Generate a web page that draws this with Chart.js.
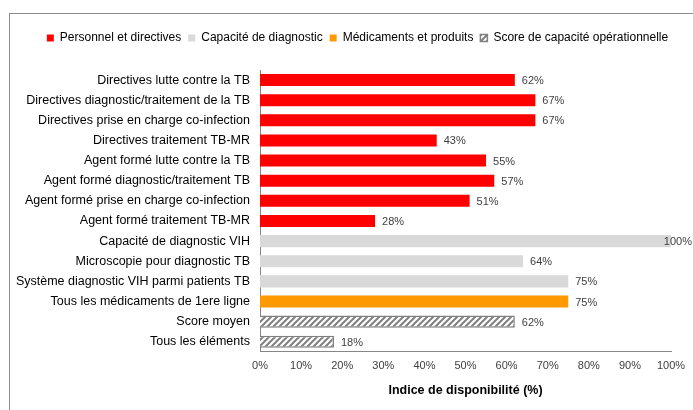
<!DOCTYPE html>
<html>
<head>
<meta charset="utf-8">
<script src="https://cdn.jsdelivr.net/npm/chart.js@4"></script>
<style>
  body { margin: 0; background: #fff; }
  #wrap { position: relative; width: 693px; height: 410px; }
  #frame { position: absolute; left: 9px; top: 13px; width: 700px; height: 420px; border: 1px solid #8c8c8c; }
  canvas { position: absolute; left: 0; top: 0; }
</style>
</head>
<body>
<div id="wrap">
  <div id="frame"></div>
  <canvas id="myChart" width="693" height="410"></canvas>
</div>
<script>
var categories = [
  'Directives lutte contre la TB',
  'Directives diagnostic/traitement de la TB',
  'Directives prise en charge co-infection',
  'Directives traitement TB-MR',
  'Agent formé lutte contre la TB',
  'Agent formé diagnostic/traitement TB',
  'Agent formé prise en charge co-infection',
  'Agent formé traitement TB-MR',
  'Capacité de diagnostic VIH',
  'Microscopie pour diagnostic TB',
  'Système diagnostic VIH parmi patients TB',
  'Tous les médicaments de 1ere ligne',
  'Score moyen',
  'Tous les éléments'
]
var seriesNames = ['Personnel et directives', 'Capacité de diagnostic', 'Médicaments et produits', 'Score de capacité opérationnelle']
var personnel = [62, 67, 67, 43, 55, 57, 51, 28, null, null, null, null, null, null]
var diagnostic = [null, null, null, null, null, null, null, null, 100, 64, 75, null, null, null]
var medicaments = [null, null, null, null, null, null, null, null, null, null, null, 75, null, null]
var score = [null, null, null, null, null, null, null, null, null, null, null, null, 62, 18]
var xTicks = [0, 10, 20, 30, 40, 50, 60, 70, 80, 90, 100]

var font = "'Liberation Sans', Arial, sans-serif"

// hatched fill for the score bars
function makeHatch() {
  var c = document.createElement('canvas')
  c.width = 6
  c.height = 6
  var g = c.getContext('2d')
  g.fillStyle = '#ffffff'
  g.fillRect(0, 0, 6, 6)
  g.strokeStyle = '#808080'
  g.lineWidth = 2
  g.beginPath()
  g.moveTo(-1, 7); g.lineTo(7, -1)
  g.moveTo(-4, 4); g.lineTo(4, -4)
  g.moveTo(2, 10); g.lineTo(10, 2)
  g.stroke()
  return g.createPattern(c, 'repeat')
}
var hatch = makeHatch()

var valueLabels = {
  id: 'valueLabels',
  afterDatasetsDraw: function (chart) {
    var ctx = chart.ctx
    ctx.save()
    ctx.font = '11px ' + font
    ctx.fillStyle = '#404040'
    ctx.textBaseline = 'middle'
    chart.data.datasets.forEach(function (ds, i) {
      var meta = chart.getDatasetMeta(i)
      meta.data.forEach(function (bar, j) {
        var v = ds.data[j]
        if (v === null) return
        var txt = v + '%'
        var w = ctx.measureText(txt).width
        var x = Math.min(bar.x + 7, chart.width - w - 1)
        ctx.fillText(txt, x, bar.y + 1)
      })
    })
    ctx.restore()
  }
}

// extra room under the legend, and shift it a bit to the right
var legendSpace = {
  id: 'legendSpace',
  beforeLayout: function (chart) {
    var lg = chart.legend
    if (lg && !lg._patched) {
      var fit = lg.fit
      lg.fit = function () {
        fit.call(this)
        this.height += 16
      }
      lg._patched = true
    }
  },
  afterUpdate: function (chart) {
    chart.legend.left += 17
    chart.legend.right += 17
  }
}

var ctx = document.getElementById('myChart').getContext('2d')
var myChart = new Chart(ctx, {
  type: 'bar',
  data: {
    labels: categories,
    datasets: [
      { label: seriesNames[0], data: personnel, backgroundColor: '#ff0000', borderWidth: 0 },
      { label: seriesNames[1], data: diagnostic, backgroundColor: '#d9d9d9', borderWidth: 0 },
      { label: seriesNames[2], data: medicaments, backgroundColor: '#ff9900', borderWidth: 0 },
      { label: seriesNames[3], data: score, backgroundColor: hatch, borderColor: '#808080', borderWidth: 1.5 }
    ]
  },
  options: {
    indexAxis: 'y',
    responsive: false,
    animation: false,
    barPercentage: 0.6,
    categoryPercentage: 1.0,
    layout: { padding: { left: 10, right: 22, top: 25, bottom: 12 } },
    plugins: {
      legend: {
        position: 'top',
        labels: {
          boxWidth: 7,
          boxHeight: 7,
          padding: 7,
          color: '#000',
          font: { size: 12, family: font }
        }
      },
      tooltip: { enabled: false }
    },
    scales: {
      x: {
        min: 0,
        max: 100,
        afterBuildTicks: function (scale) {
          scale.ticks = xTicks.map(function (v) { return { value: v } })
        },
        grid: { display: false, drawTicks: true, tickLength: 4, tickColor: '#868686' },
        border: { color: '#868686', width: 1 },
        ticks: {
          color: '#404040',
          padding: 4,
          maxRotation: 0,
          font: { size: 11, family: font },
          callback: function (v) { return v + '%' }
        },
        title: {
          display: true,
          text: 'Indice de disponibilité (%)',
          color: '#000',
          padding: { top: 6, bottom: 0 },
          font: { size: 12.5, weight: 'bold', family: font }
        }
      },
      y: {
        stacked: true,
        afterFit: function (scale) { scale.width = 250 },
        grid: { display: false, drawTicks: false },
        border: { color: '#868686', width: 1 },
        ticks: {
          color: '#000',
          padding: 10,
          autoSkip: false,
          font: { size: 12.5, family: font }
        }
      }
    }
  },
  plugins: [valueLabels, legendSpace]
})
</script>
</body>
</html>
